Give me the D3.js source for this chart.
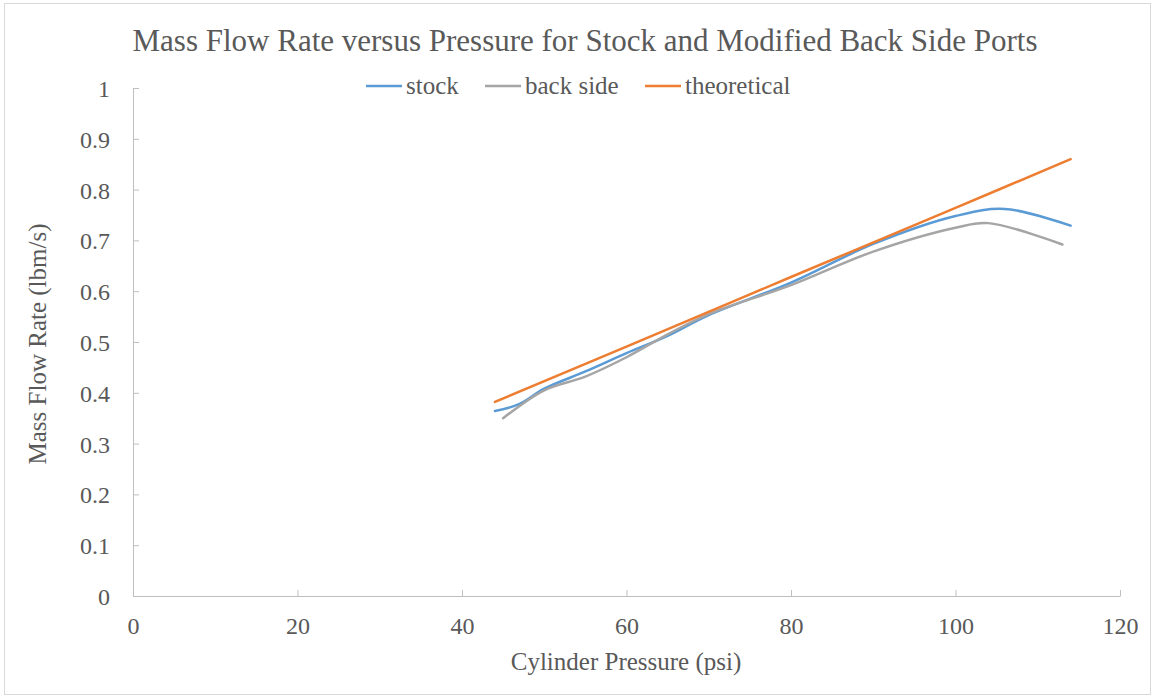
<!DOCTYPE html>
<html>
<head>
<meta charset="utf-8">
<script src="https://cdn.jsdelivr.net/npm/d3@7"></script>
<style>
	body { margin: 0; background: #fff; }
</style>
</head>
<body>
<div id="chart"></div>
<script>
// data
const stockX = [44, 47, 50, 55, 60, 65, 70, 80, 90, 100, 106, 114];
const stockY = [0.364, 0.378, 0.408, 0.442, 0.478, 0.512, 0.553, 0.617, 0.693, 0.748, 0.762, 0.729];
const backX = [45, 50, 55, 60, 65, 70, 80, 90, 100, 104, 113];
const backY = [0.350, 0.405, 0.432, 0.470, 0.515, 0.555, 0.612, 0.678, 0.725, 0.734, 0.692];
const theoX = [44, 60, 80, 100, 114];
const theoY = [0.382, 0.491, 0.628, 0.764, 0.860];
const seriesNames = ["stock", "back side", "theoretical"];
const seriesColors = ["#5b9bd5", "#a5a5a5", "#ed7d31"];
const xTicks = [0, 20, 40, 60, 80, 100, 120];
const yTicks = [0, 0.1, 0.2, 0.3, 0.4, 0.5, 0.6, 0.7, 0.8, 0.9, 1];

const width = 1152;
const height = 698;
const serif = "'Liberation Serif', Tinos, 'Times New Roman', 'DejaVu Serif', serif";

const svg = d3.select("#chart")
	.append("svg")
	.attr("width", width)
	.attr("height", height);

// outer border
svg.append("rect")
	.attr("x", 4.5).attr("y", 3.5)
	.attr("width", 1146).attr("height", 691)
	.attr("fill", "#fff")
	.attr("stroke", "#d9d9d9");

const xScale = d3.scaleLinear().domain([0, 120]).range([133, 1120]);
const yScale = d3.scaleLinear().domain([0, 1]).range([596, 88]);

// axes
const xAxis = svg.append("g")
	.attr("transform", `translate(0, ${yScale(0)})`)
	.call(d3.axisBottom(xScale).tickValues(xTicks).tickSizeInner(-6).tickSizeOuter(0).tickPadding(21));
const yAxis = svg.append("g")
	.attr("transform", `translate(${xScale(0)}, 0)`)
	.call(d3.axisLeft(yScale).tickValues(yTicks).tickSizeInner(-6).tickSizeOuter(0).tickPadding(23)
		.tickFormat(d => d3.format("")(+d.toFixed(1))));

[xAxis, yAxis].forEach(a => {
	a.attr("font-family", serif);
	a.select(".domain").attr("stroke", "#bfbfbf");
	a.selectAll(".tick line").attr("stroke", "#bfbfbf");
	a.selectAll(".tick text")
		.style("font-family", serif)
		.style("font-size", "24px")
		.attr("fill", "#595959");
});
yAxis.selectAll(".tick text").attr("dy", "0.35em");

// lines
const line = d3.line()
	.x(d => xScale(d[0]))
	.y(d => yScale(d[1]))
	.curve(d3.curveCatmullRom.alpha(0.5));

const series = [
	d3.zip(stockX, stockY),
	d3.zip(backX, backY),
	d3.zip(theoX, theoY)
];

svg.append("g")
	.selectAll("path")
	.data(series)
	.join("path")
	.attr("d", line)
	.attr("fill", "none")
	.attr("stroke", (d, i) => seriesColors[i])
	.attr("stroke-width", 2.5)
	.attr("stroke-linecap", "round");

const label = (x, y, size, txt) => svg.append("text")
	.attr("x", x).attr("y", y)
	.style("font-family", serif)
	.style("font-size", size + "px")
	.attr("fill", "#595959")
	.text(txt);

// title
label(585, 51, 31, "Mass Flow Rate versus Pressure for Stock and Modified Back Side Ports")
	.attr("text-anchor", "middle");

// legend
const legendX = [366, 485, 645];
seriesNames.forEach((name, i) => {
	svg.append("line")
		.attr("x1", legendX[i]).attr("x2", legendX[i] + 36)
		.attr("y1", 86).attr("y2", 86)
		.attr("stroke", seriesColors[i])
		.attr("stroke-width", 2.5);
	label(legendX[i] + 40, 94, 25, name);
});

// axis titles
label(626, 670, 25, "Cylinder Pressure (psi)").attr("text-anchor", "middle");

label(0, 0, 25, "Mass Flow Rate (lbm/s)")
	.attr("text-anchor", "middle")
	.attr("transform", "translate(46, 344) rotate(-90)");
</script>
</body>
</html>
